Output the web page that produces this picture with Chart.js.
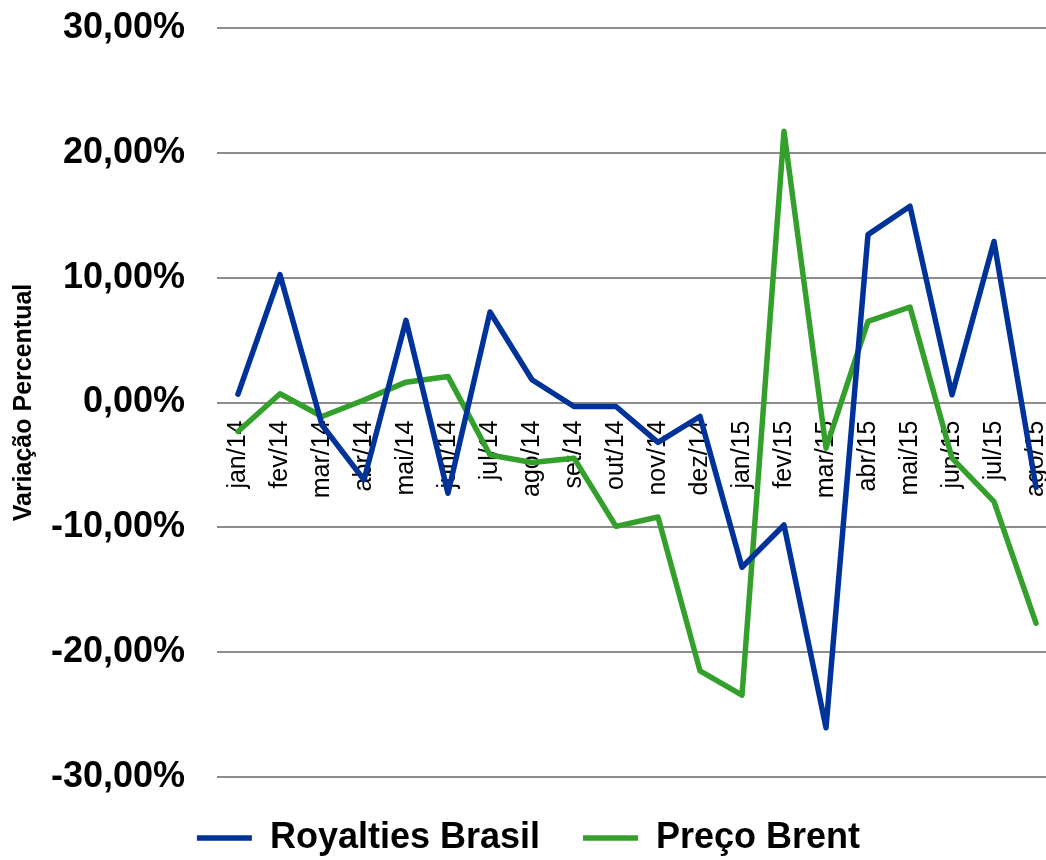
<!DOCTYPE html>
<html>
<head>
<meta charset="utf-8">
<script src="https://cdn.jsdelivr.net/npm/chart.js@4.4.1/dist/chart.umd.min.js"></script>
<style>
  html, body { margin: 0; padding: 0; background: #fff; overflow: hidden; }
  /* plot runs slightly past the right edge, as in the source image */
  #wrap { width: 1057px; height: 860px; }
</style>
</head>
<body>
<div id="wrap"><canvas id="chart"></canvas></div>
<script>
// months shown on the x axis
const months = ["jan/14", "fev/14", "mar/14", "abr/14", "mai/14", "jun/14", "jul/14",
  "ago/14", "set/14", "out/14", "nov/14", "dez/14", "jan/15", "fev/15", "mar/15",
  "abr/15", "mai/15", "jun/15", "jul/15", "ago/15"];

// monthly % change
const royalties = [0.67, 10.24, -1.8, -6.2, 6.58, -7.27, 7.25, 1.82, -0.32, -0.32,
  -3.2, -1.12, -13.2, -9.81, -26.06, 13.45, 15.72, 0.62, 12.9, -6.8];
const brent = [-2.32, 0.7, -1.12, 0.2, 1.63, 2.09, -4.2, -4.81, -4.46, -9.92,
  -9.17, -21.5, -23.44, 21.73, -3.66, 6.5, 7.65, -4.46, -7.94, -17.67];

// y ticks: -30 .. 30 step 10
const yMin = -30, yMax = 30, yStep = 10;

const BLUE = "#003399";
const GREEN = "#33A02C";
const ARIAL = "'Liberation Sans', Arial, sans-serif";

const pct = v => v.toFixed(2).replace(".", ",") + "%";

const ctx = document.getElementById("chart").getContext("2d");
const chart = new Chart(ctx, {
  type: "line",
  data: {
    labels: months,
    datasets: [
      { label: "Royalties Brasil", data: royalties, borderColor: BLUE, backgroundColor: BLUE,
        borderWidth: 5.5, pointRadius: 0, tension: 0,
        borderCapStyle: "round", borderJoinStyle: "round" },
      { label: "Preço Brent", data: brent, borderColor: GREEN, backgroundColor: GREEN,
        borderWidth: 5.5, pointRadius: 0, tension: 0,
        borderCapStyle: "round", borderJoinStyle: "round" }
    ]
  },
  options: {
    responsive: true,
    maintainAspectRatio: false,
    animation: false,
    layout: { padding: { left: 0, right: 0, top: 28, bottom: -6 } },
    plugins: {
      legend: {
        position: "bottom",
        labels: {
          usePointStyle: true,
          pointStyle: "line",
          pointStyleWidth: 55,
          color: "#000",
          padding: 43,
          font: { family: ARIAL, size: 36, weight: "bold" }
        }
      },
      tooltip: { enabled: false }
    },
    scales: {
      x: {
        position: { y: 0 },
        offset: true,
        afterFit: s => { s.paddingLeft = 0; s.paddingRight = 0; s.paddingTop = 0; s.paddingBottom = 0; },
        grid: { display: false, drawTicks: false },
        border: { display: false },
        ticks: {
          minRotation: 90, maxRotation: 90, autoSkip: false,
          padding: 18, color: "#000",
          font: { family: ARIAL, size: 25 }
        }
      },
      y: {
        min: yMin, max: yMax,
        afterFit: s => { s.width = 217; s.paddingTop = 0; s.paddingBottom = 0; },
        grid: { color: "#8c8c8c", lineWidth: 2, drawTicks: false },
        border: { display: false },
        ticks: {
          stepSize: yStep, padding: 32, color: "#000",
          font: { family: ARIAL, size: 36, weight: "bold" },
          callback: v => pct(v)
        },
        title: {
          display: true, text: "Variação Percentual", color: "#000",
          padding: { top: 12, bottom: 0 },
          font: { family: ARIAL, size: 25, weight: "bold", lineHeight: 1 }
        }
      }
    }
  }
});
</script>
</body>
</html>
